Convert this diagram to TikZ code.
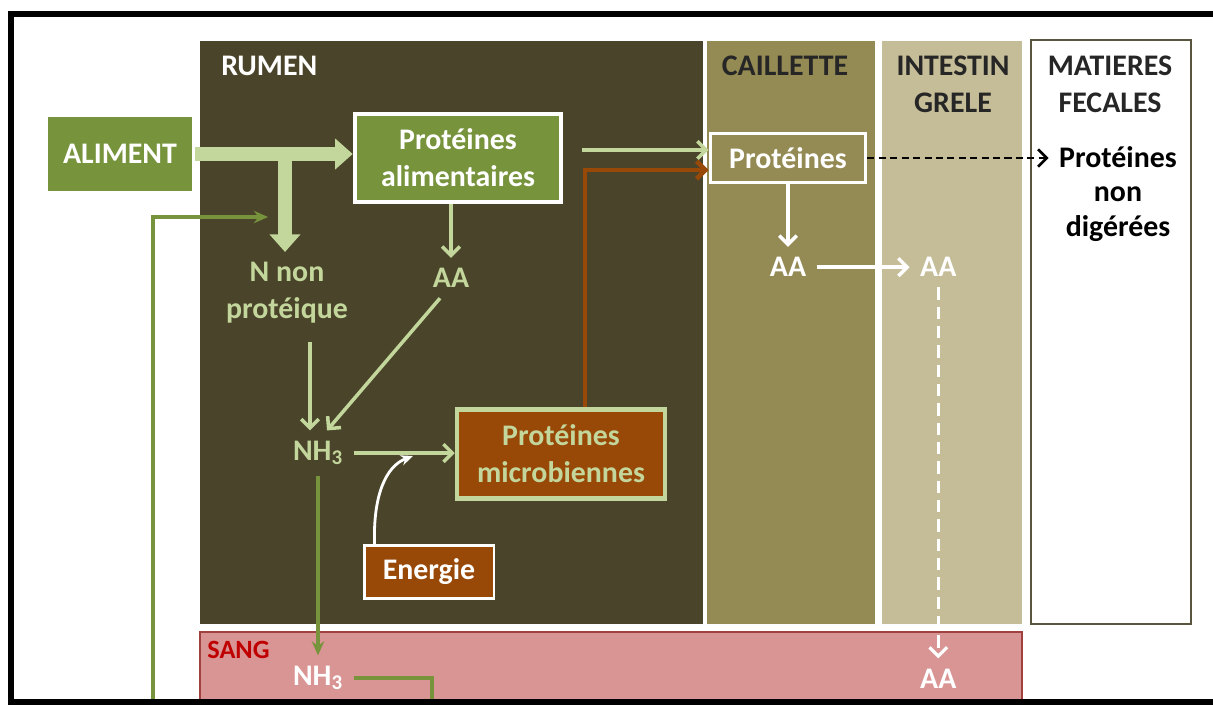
\documentclass[tikz,border=0pt]{standalone}
\usepackage{fontspec}
\setmainfont{Carlito}
\usepackage{xcolor}
\usepackage{tikz}
\usetikzlibrary{calc, positioning, arrows.meta}
\definecolor{rumenC}{HTML}{4A452A}
\definecolor{cailletteC}{HTML}{948A54}
\definecolor{intestinC}{HTML}{C4BD97}
\definecolor{fecesC}{HTML}{59553F}
\definecolor{sangC}{HTML}{D99594}
\definecolor{sangEdge}{HTML}{A0413F}
\definecolor{sangRed}{HTML}{C00000}
\definecolor{feedGreen}{HTML}{77933C}
\definecolor{paleGreen}{HTML}{C3D69B}
\definecolor{microBrown}{HTML}{984807}
\newcommand{\diagfont}{\fontsize{17}{21}\selectfont\bfseries}
\tikzset{
    block/.style={rectangle, draw=white, line width=2.6pt, fill=feedGreen, text=white, align=center, font=\diagfont, inner sep=0pt},
    tag/.style={align=center, font=\diagfont, inner sep=0pt, outer sep=6pt},
    head/.style={align=center, font=\diagfont, text=black!85, inner sep=0pt},
    arrow/.style={-{Straight Barb[length=5pt, width=10pt]}, line width=2pt},
    bigArrow/.style={-{Triangle[length=10pt, width=17pt]}, line width=8pt, draw=paleGreen},
    loopArrow/.style={-{Stealth[length=8pt, width=7pt]}, line width=1.8pt, draw=feedGreen},
    dashArrow/.style={arrow, dash pattern=on 4pt off 2.5pt, line width=1.5pt}
}

\begin{document}
\begin{tikzpicture}[x=0.02cm, y=-0.02cm]
        \clip (0,0) rectangle (1213,704);

        % Compartments
        \fill[rumenC] (200,41) rectangle (703,624);
        \fill[cailletteC] (707,41) rectangle (875,624);
        \fill[intestinC] (882,41) rectangle (1022,624);
        \draw[fecesC, line width=1.6pt, fill=white] (1031,40) rectangle (1191,624);
        \draw[sangEdge, line width=1pt, fill=sangC] (200,632) rectangle (1022,720);

        \node[head, text=white, anchor=west] (rumenLbl) at (221,66) {RUMEN};
        \node[head] (cailletteLbl) at (785,66) {CAILLETTE};
        \node[head] (intestinLbl) at (953,84) {INTESTIN\\GRELE};
        \node[head] (fecesLbl) at (1110,84) {MATIERES\\FECALES};
        \node[head, text=sangRed, anchor=west, font=\fontsize{15}{18}\selectfont\bfseries] (sangLbl) at (207,650) {SANG};

        % Boxes
        \node[block, draw=none, minimum width=2.9cm, minimum height=1.48cm] (aliment) at (120,154) {ALIMENT};
        \node[block, minimum width=4.12cm, minimum height=1.76cm] (protAlim) at (458,158) {Protéines\\alimentaires};
        \node[block, fill=microBrown, draw=paleGreen, text=paleGreen, minimum width=4.16cm, minimum height=1.78cm] (protMicro) at (561,454) {Protéines\\microbiennes};
        \node[block, fill=microBrown, line width=1.7pt, minimum width=2.6cm, minimum height=1.05cm] (energie) at (429,572) {Energie};
        \node[block, fill=cailletteC, line width=2.2pt, minimum width=3.1cm, minimum height=0.98cm] (protCail) at (788,158) {Protéines};

        % Labels
        \node[tag, text=paleGreen] (nnp) at (287,293) {N non\\protéique};
        \node[tag, text=paleGreen] (aa) at (451,278) {AA};
        \node[tag, text=paleGreen] (nh3) at (318,453) {NH\textsubscript{3}};
        \node[tag, text=white, below=1.25cm of protCail] (aaCail) {AA};
        \node[tag, text=white, right=1.86cm of aaCail] (aaInt) {AA};
        \node[tag, text=white, below=7.42cm of aaInt] (aaSang) {AA};
        \node[tag, text=white] (nh3Sang) at (318,678) {NH\textsubscript{3}};
        \node[tag, text=black, font=\fontsize{17}{19.6}\selectfont\bfseries] (nonDig) at (1118,194) {Protéines\\non\\digérées};

        \coordinate (split) at (285,155);
        \coordinate (boost) at (413,456);
        \coordinate (sangOut) at (432,710);
        \coordinate (loopStart) at (153,710);
        \coordinate (loopEnd) at (268,217);

        % Arrows
        \draw[bigArrow] (split) -- (split |- nnp.north);
        \draw[bigArrow] (aliment.east) -- (aliment.east -| protAlim.west);

        \draw[arrow, paleGreen] (protAlim.south -| aa.north) -- (aa.north);
        \draw[arrow, paleGreen] ($(nnp.south)+(23,8)$) -- ($(nh3.north)+(-8,0)$);
        \draw[arrow, paleGreen] ($(aa.south)+(-11,0)$) -- ($(nh3.north)+(9,0)$);
        \draw[arrow, paleGreen] (nh3.east) -- (nh3.east -| protMicro.west);
        \draw[white, line width=1.6pt, -{Stealth[length=7pt, width=6pt]}] ($(energie.north west)+(12,0)$) .. controls (373,495) and (386,466) .. (boost);

        \draw[arrow, paleGreen] ($(protAlim.east)+(19,-8)$) -- ($(protCail.west)+(0,-8)$);
        \draw[arrow, microBrown, line width=2.6pt] ($(protMicro.north)+(24,0)$) |- ($(protCail.west)+(0,12)$);

        \draw[arrow, white] (protCail) -- (aaCail);
        \draw[arrow, white] (aaCail) -- (aaInt);
        \draw[arrow, white, dash pattern=on 7pt off 4pt, line width=1.8pt] (aaInt) -- (aaSang);
        \draw[dashArrow, black] (protCail.east) -- (protCail.east -| nonDig.west);

        \draw[loopArrow] (nh3) -- (nh3Sang);
        \draw[feedGreen, line width=2.6pt] (nh3Sang.east) -| (sangOut);
        \draw[loopArrow] (loopStart) |- (loopEnd);

        % Frame
        \draw[line width=3.4pt] (11,14) rectangle (1240,702);
\end{tikzpicture}
\end{document}
